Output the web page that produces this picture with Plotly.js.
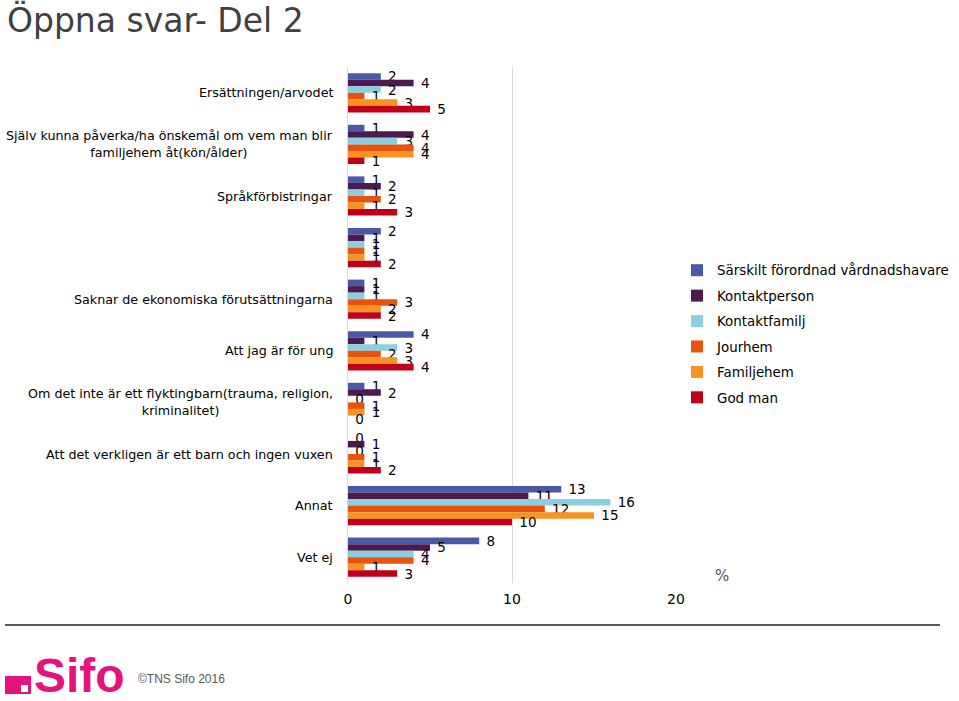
<!DOCTYPE html>
<html><head><meta charset="utf-8">
<script src="https://cdn.plot.ly/plotly-3.0.1.min.js"></script>
<style>html,body{margin:0;padding:0;background:#fff}</style>
</head><body><div id="chart" style="width:959px;height:701px"></div>
<script>
const categories = [
  "Ersättningen/arvodet",
  "Själv kunna påverka/ha önskemål om vem man blir<br>familjehem åt(kön/ålder)",
  "Språkförbistringar",
  "",
  "Saknar de ekonomiska förutsättningarna",
  "Att jag är för ung",
  "Om det inte är ett flyktingbarn(trauma, religion,<br>kriminalitet)",
  "Att det verkligen är ett barn och ingen vuxen",
  "Annat",
  "Vet ej"
];
const seriesNames = ["Särskilt förordnad vårdnadshavare","Kontaktperson","Kontaktfamilj","Jourhem","Familjehem","God man"];
const seriesColors = ["#4B58A6","#4C1A4E","#8DCFE0","#E8540F","#F7931E","#C00018"];
const sarskilt   = [2,1,1,2,1,4,1,0,13,8];
const kontaktperson = [4,4,2,1,1,1,2,1,11,5];
const kontaktfamilj = [2,3,1,1,1,3,0,0,16,4];
const jourhem    = [1,4,2,1,3,2,1,1,12,4];
const familjehem = [3,4,1,1,2,3,1,1,15,1];
const godMan     = [5,1,3,2,2,4,0,2,10,3];
const xTicks = [0,10,20];

const allSeries = [sarskilt,kontaktperson,kontaktfamilj,jourhem,familjehem,godMan];
const yPos = categories.map((_,i)=>i);
const FONT = "DejaVu Sans, Verdana, sans-serif";

const traces = allSeries.map((vals,k)=>({
  type:'bar', orientation:'h', name:seriesNames[k], legendgroup:'g'+k,
  x:vals, y:yPos, marker:{color:seriesColors[k]},
  text:vals.map(v=>'\u00a0'+v), textposition:'outside', constraintext:'none', cliponaxis:false,
  textfont:{family:FONT,size:13.5,color:'#000'}, hoverinfo:'x+name'
}));

// pixel -> paper helpers (plot area: x 348..676, y 67..583)
const L=348,R=676,T=67,B=583;
const px = x => (x-L)/(R-L);
const py = y => (B-y)/(B-T);

const annotations = categories.map((c,i)=>({
  text:c, x:px(335), xref:'paper', y:i, yref:'y', xanchor:'right', yanchor:'middle',
  align:'center', showarrow:false, font:{family:FONT,size:12.7,color:'#000'}
}));
annotations.push({text:'%',x:px(713),xref:'paper',y:py(576),yref:'paper',xanchor:'left',yanchor:'middle',showarrow:false,font:{family:FONT,size:15,color:'#555'}});
annotations.push({text:'Sifo',x:px(32),xref:'paper',y:py(676),yref:'paper',xanchor:'left',yanchor:'middle',showarrow:false,font:{family:'Liberation Sans, Arial, sans-serif',size:48,color:'#E3137B',weight:'bold'}});
annotations.push({text:'©TNS Sifo 2016',x:px(136),xref:'paper',y:py(679),yref:'paper',xanchor:'left',yanchor:'middle',showarrow:false,font:{family:'Liberation Sans, Arial, sans-serif',size:12,color:'#595959'}});

const shapes = [
  {type:'line',xref:'paper',yref:'paper',x0:px(5),x1:px(940),y0:py(625),y1:py(625),line:{color:'#595959',width:2}},
  {type:'rect',xref:'paper',yref:'paper',x0:px(5),x1:px(31),y0:py(694),y1:py(676),fillcolor:'#E3137B',line:{width:0}},
  {type:'rect',xref:'paper',yref:'paper',x0:px(21),x1:px(28),y0:py(692),y1:py(685),fillcolor:'#fff',line:{width:0}}
];

const layout = {
  width:959, height:701,
  margin:{l:L,r:959-R,t:T,b:701-B,pad:0,autoexpand:false},
  paper_bgcolor:'#fff', plot_bgcolor:'#fff',
  font:{family:FONT,color:'#000'},
  title:{text:'Öppna svar- Del 2',x:7/959,xanchor:'left',xref:'container',y:1-20/701,yanchor:'middle',yref:'container',
         font:{family:FONT,size:33,color:'#404040'}},
  barmode:'group', bargap:0.24, bargroupgap:0,
  xaxis:{range:[0,20],tickvals:xTicks,ticktext:xTicks.map(String),showgrid:true,gridcolor:'#D9D9D9',gridwidth:1,
         zeroline:false,showline:false,ticks:'',ticklabelstandoff:6,tickfont:{family:FONT,size:14,color:'#000'},fixedrange:true},
  yaxis:{autorange:false,range:[categories.length-0.5,-0.5],showticklabels:false,ticks:'',showgrid:false,zeroline:false,
         showline:true,linecolor:'#D9D9D9',linewidth:1,tickvals:yPos,fixedrange:true},
  legend:{x:px(677),xanchor:'left',y:py(255),yanchor:'top',font:{family:FONT,size:13.4,color:'#000'},
          tracegroupgap:5,itemwidth:30,bgcolor:'rgba(0,0,0,0)'},
  annotations, shapes, showlegend:true
};

Plotly.newPlot('chart', traces, layout, {displayModeBar:false,staticPlot:true});
</script></body></html>
